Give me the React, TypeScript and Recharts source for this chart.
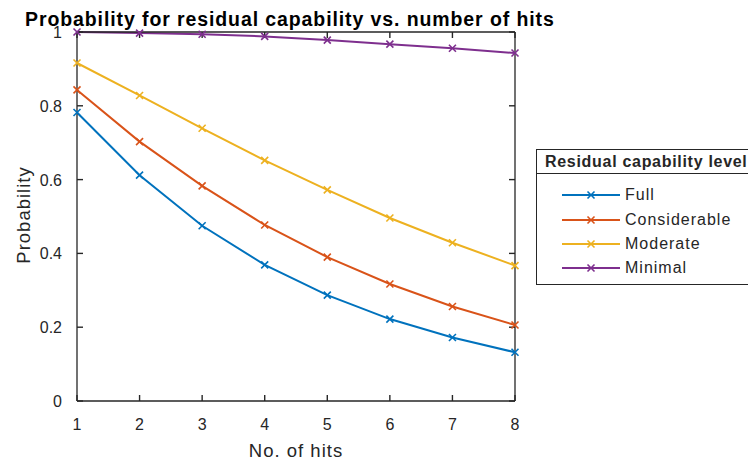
import React from "react";
import { LineChart, Line, XAxis, YAxis, Legend } from "recharts";

const hits = [1, 2, 3, 4, 5, 6, 7, 8];
const full = [0.782, 0.612, 0.475, 0.369, 0.287, 0.222, 0.172, 0.132];
const considerable = [0.843, 0.703, 0.583, 0.477, 0.39, 0.317, 0.256, 0.206];
const moderate = [0.916, 0.828, 0.739, 0.652, 0.572, 0.496, 0.429, 0.367];
const minimal = [1.0, 0.997, 0.994, 0.988, 0.978, 0.967, 0.956, 0.943];
const yTicks = [0, 0.2, 0.4, 0.6, 0.8, 1];
const yTickLabels = ["0", "0.2", "0.4", "0.6", "0.8", "1"];

const series = [
  { key: "full", name: "Full", values: full, color: "#0072BD" },
  { key: "considerable", name: "Considerable", values: considerable, color: "#D95319" },
  { key: "moderate", name: "Moderate", values: moderate, color: "#EDB120" },
  { key: "minimal", name: "Minimal", values: minimal, color: "#7E2F8E" },
];

const data = hits.map((h, i) => {
  const row: any = { hits: h };
  series.forEach((s) => {
    row[s.key] = s.values[i];
  });
  return row;
});

const font = "'Liberation Sans', Arial, Helvetica, sans-serif";
const ink = "#262626";
// negative tick size = ticks pointing into the plot, like MATLAB
const tickIn = -6;
const tickStyle = { stroke: ink, strokeWidth: 1.4 };

const XMark = ({ cx, cy, color }: { cx: number; cy: number; color: string }) => (
  <g>
    <line x1={cx - 3.5} y1={cy - 3.5} x2={cx + 3.5} y2={cy + 3.5} stroke={color} strokeWidth={1.6} />
    <line x1={cx - 3.5} y1={cy + 3.5} x2={cx + 3.5} y2={cy - 3.5} stroke={color} strokeWidth={1.6} />
  </g>
);

const BottomTick = ({ x, y, payload }: any) => (
  <text x={x} y={y + 35} textAnchor="middle" fontSize={16} fill={ink} fontFamily={font}>
    {payload.value}
  </text>
);

const LeftTick = ({ x, y, payload }: any) => (
  <text x={x - 21} y={y + 6} textAnchor="end" fontSize={16} fill={ink} fontFamily={font}>
    {yTickLabels[yTicks.indexOf(payload.value)]}
  </text>
);

const NoLabel = () => <g />;

const LegendBox = () => (
  <div
    style={{
      border: `1px solid ${ink}`,
      background: "#fff",
      width: 240,
      fontFamily: font,
      color: ink,
      whiteSpace: "nowrap",
      boxSizing: "border-box",
    }}
  >
    <div
      style={{
        height: 23,
        lineHeight: "23px",
        borderBottom: `1px solid ${ink}`,
        fontWeight: 700,
        fontSize: 16,
        letterSpacing: 0.7,
        paddingLeft: 8,
      }}
    >
      Residual capability level
    </div>
    <div style={{ padding: "9px 0 3px 0" }}>
      {series.map((s) => (
        <div key={s.key} style={{ height: 24.4, display: "flex", alignItems: "center" }}>
          <svg width={58} height={24} style={{ marginLeft: 25 }}>
            <line x1={0} y1={12} x2={58} y2={12} stroke={s.color} strokeWidth={2} />
            <XMark cx={29} cy={12} color={s.color} />
          </svg>
          <span style={{ marginLeft: 5, fontSize: 16, letterSpacing: 1 }}>{s.name}</span>
        </div>
      ))}
    </div>
  </div>
);

export default function App() {
  return (
    <div style={{ position: "absolute", left: 0, top: 0, width: 748, height: 465, overflow: "hidden", background: "#fff" }}>
      <LineChart width={748} height={465} data={data} margin={{ top: 31, right: 232, bottom: 0, left: 0 }}>
        <XAxis
          dataKey="hits"
          type="number"
          domain={[1, 8]}
          ticks={hits}
          interval={0}
          height={64}
          tickSize={tickIn}
          tickMargin={0}
          tickLine={tickStyle}
          stroke={ink}
          strokeWidth={1.3}
          tick={<BottomTick />}
        />
        <XAxis
          xAxisId="top"
          orientation="top"
          dataKey="hits"
          type="number"
          domain={[1, 8]}
          ticks={hits}
          interval={0}
          height={1}
          tickSize={tickIn}
          tickMargin={0}
          tickLine={tickStyle}
          stroke={ink}
          strokeWidth={1.3}
          tick={<NoLabel />}
        />
        <YAxis
          type="number"
          domain={[0, 1]}
          ticks={yTicks}
          interval={0}
          width={77}
          tickSize={tickIn}
          tickMargin={0}
          tickLine={tickStyle}
          stroke={ink}
          strokeWidth={1.3}
          tick={<LeftTick />}
        />
        <YAxis
          yAxisId="right"
          orientation="right"
          type="number"
          domain={[0, 1]}
          ticks={yTicks}
          interval={0}
          width={1}
          tickSize={tickIn}
          tickMargin={0}
          tickLine={tickStyle}
          stroke={ink}
          strokeWidth={1.3}
          tick={<NoLabel />}
        />
        <Legend
          layout="vertical"
          align="center"
          verticalAlign="middle"
          wrapperStyle={{ left: 536, top: 149, width: 240 }}
          content={<LegendBox />}
        />
        {/* invisible series so the top and right box axes get drawn */}
        <Line
          xAxisId="top"
          yAxisId="right"
          dataKey="minimal"
          stroke="none"
          dot={false}
          activeDot={false}
          legendType="none"
          isAnimationActive={false}
        />
        {series.map((s) => (
          <Line
            key={s.key}
            dataKey={s.key}
            name={s.name}
            type="linear"
            stroke={s.color}
            strokeWidth={2}
            isAnimationActive={false}
            activeDot={false}
            dot={(p: any) => <XMark key={`${s.key}-${p.index}`} cx={p.cx} cy={p.cy} color={s.color} />}
          />
        ))}
        <text x={25} y={26} fontSize={19.5} fontWeight={700} fill="#000" fontFamily={font} letterSpacing={0.9}>
          Probability for residual capability vs. number of hits
        </text>
        <text
          x={30}
          y={215}
          transform="rotate(-90, 30, 215)"
          textAnchor="middle"
          fontSize={18.5}
          fill={ink}
          fontFamily={font}
          letterSpacing={1}
        >
          Probability
        </text>
        <text x={296} y={457} textAnchor="middle" fontSize={18.5} fill={ink} fontFamily={font} letterSpacing={1}>
          No. of hits
        </text>
      </LineChart>
    </div>
  );
}
